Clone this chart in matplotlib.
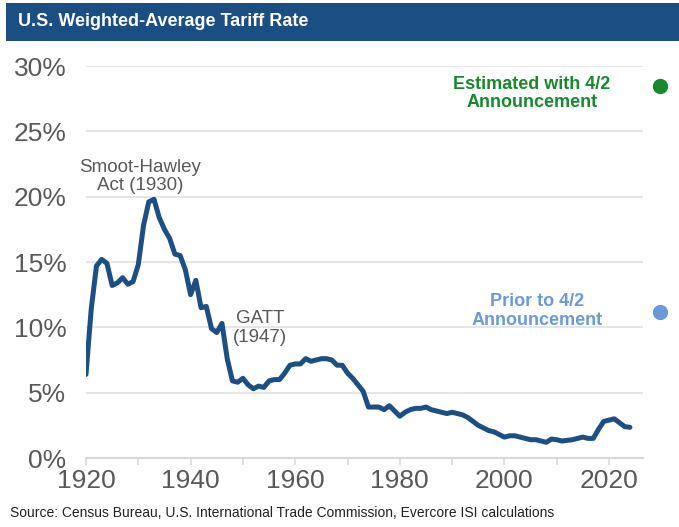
import matplotlib
matplotlib.use("Agg")
import matplotlib.pyplot as plt
from matplotlib.patches import Rectangle

years = list(range(1920, 2025))
tariff_rate = [
    6.4, 11.4, 14.7, 15.2, 14.9, 13.2, 13.4, 13.8, 13.3, 13.5,   # 1920s
    14.8, 17.8, 19.6, 19.8, 18.4, 17.5, 16.8, 15.6, 15.5, 14.4,  # 1930s
    12.5, 13.6, 11.5, 11.6, 9.9, 9.6, 10.3, 7.6, 5.9, 5.8,       # 1940s
    6.1, 5.6, 5.3, 5.5, 5.4, 5.9, 6.0, 6.0, 6.5, 7.1,            # 1950s
    7.2, 7.2, 7.6, 7.4, 7.5, 7.6, 7.6, 7.5, 7.1, 7.1,            # 1960s
    6.5, 6.1, 5.6, 5.1, 3.9, 3.9, 3.9, 3.7, 4.0, 3.6,            # 1970s
    3.2, 3.5, 3.7, 3.8, 3.8, 3.9, 3.7, 3.6, 3.5, 3.4,            # 1980s
    3.5, 3.4, 3.3, 3.1, 2.8, 2.5, 2.3, 2.1, 2.0, 1.8,            # 1990s
    1.6, 1.7, 1.7, 1.6, 1.5, 1.4, 1.4, 1.3, 1.2, 1.45,           # 2000s
    1.4, 1.3, 1.35, 1.4, 1.5, 1.6, 1.5, 1.5, 2.2, 2.8,           # 2010s
    2.9, 3.0, 2.7, 2.4, 2.35,                                    # 2020s
]
estimated_rate = 28.5
prior_rate = 11.2
point_year = 2029.7

x_ticks = list(range(1920, 2030, 10))
x_labels = ["1920", "", "1940", "", "1960", "", "1980", "", "2000", "", "2020"]
y_ticks = [0, 5, 10, 15, 20, 25, 30]
y_labels = ["0%", "5%", "10%", "15%", "20%", "25%", "30%"]

FONT = ["Liberation Sans", "DejaVu Sans"]
GRAY = "#595959"
NAVY = "#1d4f85"
GREEN = "#178a2c"
LBLUE = "#6a9bd8"

fig = plt.figure(figsize=(6.79, 5.27), dpi=100)
fig.patch.set_facecolor("white")

# title bar
fig.patches.append(Rectangle((6 / 679, 1 - 41 / 527), 1 - 6 / 679, 38 / 527,
                             transform=fig.transFigure, facecolor="#1b4e82",
                             edgecolor="none", zorder=0))
fig.text(18 / 679, 1 - 22 / 527, "U.S. Weighted-Average Tariff Rate",
         family=FONT, fontweight="bold", fontsize=13, color="white",
         va="center", ha="left")

ax = fig.add_axes([86 / 679, 69 / 527, (643 - 86) / 679, (458 - 66) / 527])
ax.set_xlim(1920, 2026.5)
ax.set_ylim(0, 30)

ax.plot(years, tariff_rate, color=NAVY, lw=3.6, solid_joinstyle="round",
        solid_capstyle="round", zorder=3)
ax.plot([point_year], [estimated_rate], "o", color=GREEN, ms=10, clip_on=False, zorder=4)
ax.plot([point_year], [prior_rate], "o", color=LBLUE, ms=10, clip_on=False, zorder=4)

ax.set_yticks(y_ticks)
ax.set_yticklabels(y_labels)
ax.set_xticks(x_ticks)
ax.set_xticklabels(x_labels)
for s in ["top", "right", "left"]:
    ax.spines[s].set_visible(False)
ax.spines["bottom"].set_color("#d9d9d9")
ax.spines["bottom"].set_linewidth(1.5)
ax.tick_params(axis="y", length=0, pad=14, labelsize=19, labelcolor=GRAY)
ax.tick_params(axis="x", length=5, width=1.2, color="#d9d9d9", pad=3,
               labelsize=19, labelcolor=GRAY)
for lab in ax.get_xticklabels() + ax.get_yticklabels():
    lab.set_family(FONT)
ax.grid(axis="y", color="#e6e6e6", lw=1.5)
ax.set_axisbelow(True)

ax.text(1930.3, 21.55, "Smoot-Hawley\nAct (1930)", family=FONT, fontsize=13.5,
        color=GRAY, ha="center", va="center", linespacing=1.1)
ax.text(1953.3, 9.95, "GATT\n(1947)", family=FONT, fontsize=13.5,
        color=GRAY, ha="center", va="center", linespacing=1.1)
ax.text(2005.3, 27.9, "Estimated with 4/2\nAnnouncement", family=FONT,
        fontsize=13, fontweight="bold", color=GREEN, ha="center", va="center",
        linespacing=1.1)
ax.text(2006.2, 11.25, "Prior to 4/2\nAnnouncement", family=FONT,
        fontsize=13, fontweight="bold", color=LBLUE, ha="center", va="center",
        linespacing=1.1)

fig.text(10 / 679, 1 - 513 / 527,
         "Source: Census Bureau, U.S. International Trade Commission, Evercore ISI calculations",
         family=FONT, fontsize=10, color="#222222", ha="left", va="center")

fig.savefig("out.png", dpi=100)
